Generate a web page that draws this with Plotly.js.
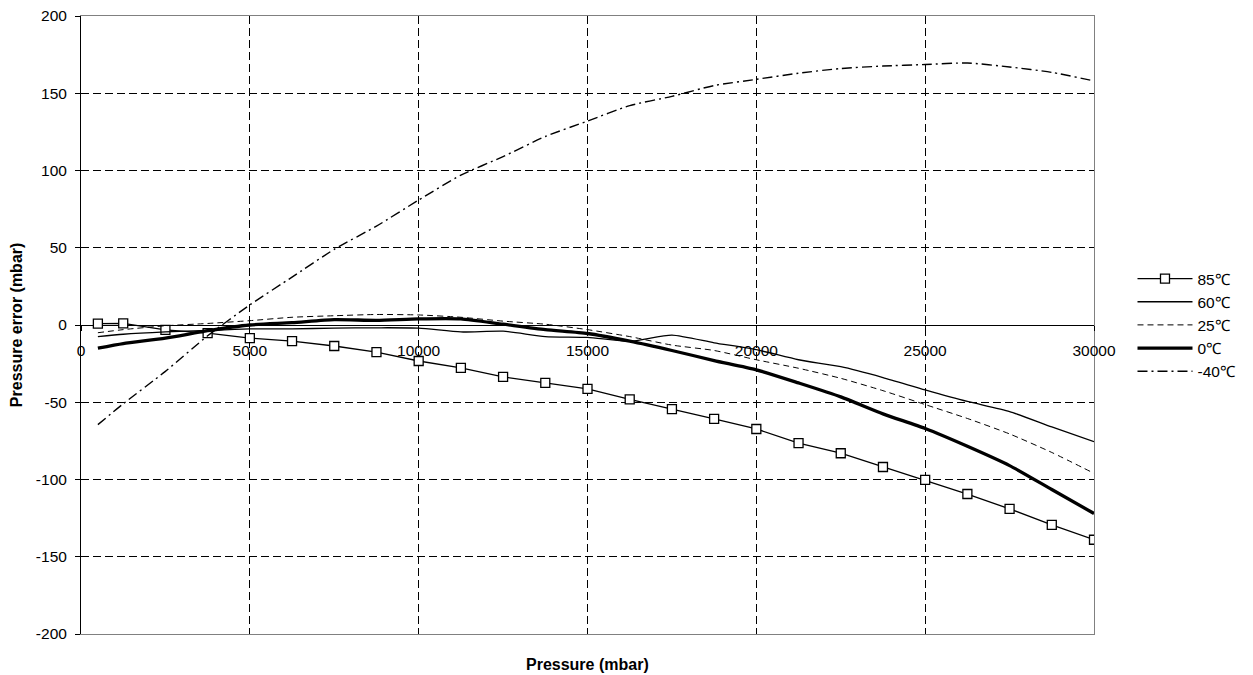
<!DOCTYPE html>
<html>
<head>
<meta charset="utf-8">
<script src="https://cdn.plot.ly/plotly-3.0.1.min.js"></script>
<style>html,body{margin:0;padding:0;background:#fff;}#chart{width:1253px;height:675px;}</style>
</head>
<body>
<div id="chart"></div>
<script>
var pressure = [500, 1250, 2500, 3750, 5000, 6250, 7500, 8750, 10000, 11250, 12500, 13750, 15000, 16250, 17500, 18750, 20000, 21250, 22500, 23750, 25000, 26250, 27500, 28750, 30000];
var err85 = [0.9, 1.1, -3.2, -5.2, -8.5, -10.5, -13.6, -17.5, -23.3, -27.8, -33.6, -37.5, -41.4, -48.2, -54.4, -60.8, -67.3, -76.4, -83, -91.9, -100.3, -109.4, -119, -129.4, -139];
var err60 = [-7.5, -6, -4.5, -3.5, -2.5, -2.5, -2, -1.8, -2, -4.5, -4, -7.5, -8, -10.5, -6.5, -11.5, -16, -22.5, -27, -34, -42, -49.5, -56, -66, -75.5];
var err25 = [-5, -3, -0.5, 1, 2.8, 5, 6, 6.8, 6.5, 5, 2.5, 0.5, -3, -7.5, -13, -16.5, -22.5, -28, -34.5, -42.5, -51.5, -60.5, -70.5, -82.5, -96];
var err0 = [-15, -12, -8.5, -3.7, 0, 1.5, 3.5, 3, 4, 4, 0.5, -3, -5.5, -10.5, -16.5, -23, -29, -37.5, -46.5, -57.5, -67, -78.5, -91, -106.5, -122];
var errM40 = [-64.5, -51, -30, -7, 13, 31, 49, 64, 80.9, 97, 109, 122, 132, 142, 148, 155, 159, 163, 166, 167.6, 168.6, 169.6, 167, 163.5, 158];
var seriesNames = ['85\u2103', '60\u2103', '25\u2103', '0\u2103', '-40\u2103'];
var xTicks = [0, 5000, 10000, 15000, 20000, 25000, 30000];
var xTickText = ['0', '5000', '10000', '15000', '20000', '25000', '30000'];
var yTicks = [-200, -150, -100, -50, 0, 50, 100, 150, 200];
var yTickText = ['-200', '-150', '-100', '-50', '0', '50', '100', '150', '200'];

var FONT = 'Liberation Sans, Arial, Helvetica, sans-serif';
var traces = [
  {x: pressure, y: err85, name: seriesNames[0], mode: 'lines+markers',
   line: {color: '#000', width: 1.3},
   marker: {symbol: 'square', size: 9, color: '#fff', line: {color: '#000', width: 1.3}}},
  {x: pressure, y: err60, name: seriesNames[1], mode: 'lines',
   line: {color: '#000', width: 1.3, shape: 'spline', smoothing: 0.6}},
  {x: pressure, y: err25, name: seriesNames[2], mode: 'lines',
   line: {color: '#000', width: 1, dash: '6px,4px', shape: 'spline', smoothing: 0.6}},
  {x: pressure, y: err0, name: seriesNames[3], mode: 'lines',
   line: {color: '#000', width: 3.3, shape: 'spline', smoothing: 0.6}},
  {x: pressure, y: errM40, name: seriesNames[4], mode: 'lines',
   line: {color: '#000', width: 1.4, dash: '10px,4px,2px,4px', shape: 'spline', smoothing: 0.6}}
];

var layout = {
  width: 1253, height: 675,
  margin: {l: 81, r: 159, t: 16, b: 41, pad: 0},
  paper_bgcolor: '#fff', plot_bgcolor: '#fff',
  font: {family: FONT, size: 15.5, color: '#000'},
  showlegend: true,
  xaxis: {range: [0, 30000], tickvals: xTicks, showgrid: true, gridcolor: '#000', gridwidth: 1, griddash: '8px,4px',
          showline: true, linecolor: '#808080', linewidth: 1, mirror: true, showticklabels: false, ticks: '', zeroline: false, fixedrange: true},
  yaxis: {range: [-200, 200], tickvals: yTicks, showgrid: true, gridcolor: '#000', gridwidth: 1, griddash: '8px,4px',
          showline: true, linecolor: '#808080', linewidth: 1, mirror: true, showticklabels: false, ticks: '',
          zeroline: true, zerolinecolor: '#000', zerolinewidth: 1, fixedrange: true},
  xaxis2: {overlaying: 'x', anchor: 'free', position: 0.5, range: [0, 30000], tickvals: xTicks, ticktext: xTickText,
           showgrid: false, showline: false, zeroline: false, ticks: 'outside', ticklen: 5, tickcolor: '#000',
           ticklabelstandoff: 6, tickfont: {family: FONT, size: 15.5, color: '#000'}, fixedrange: true},
  yaxis2: {overlaying: 'y', side: 'left', anchor: 'x', range: [-200, 200], tickvals: yTicks, ticktext: yTickText,
           showgrid: false, zeroline: false, showline: true, linecolor: '#000', linewidth: 1,
           ticks: 'outside', ticklen: 5, tickcolor: '#000', ticklabelstandoff: 5,
           tickfont: {family: FONT, size: 15.5, color: '#000'}, fixedrange: true},
  legend: {x: 1.038, xanchor: 'left', y: 0.5, yanchor: 'middle', bgcolor: 'rgba(0,0,0,0)',
           font: {family: FONT, size: 15.5, color: '#000'}, itemwidth: 55, tracegroupgap: 0},
  annotations: [
    {text: 'Pressure (mbar)', xref: 'paper', yref: 'paper', x: 0.5, y: -0.05, xanchor: 'center', yanchor: 'middle',
     showarrow: false, font: {family: FONT, size: 16, color: '#000', weight: 'bold'}},
    {text: 'Pressure error (mbar)', xref: 'paper', yref: 'paper', x: -0.064, y: 0.5, xanchor: 'center', yanchor: 'middle',
     textangle: -90, showarrow: false, font: {family: FONT, size: 16, color: '#000', weight: 'bold'}}
  ]
};

// invisible helper trace to bind overlay axes
traces.push({x: [0, 30000], y: [0, 0], xaxis: 'x2', yaxis: 'y2', mode: 'lines', line: {width: 0, color: 'rgba(0,0,0,0)'},
             showlegend: false, hoverinfo: 'skip'});

Plotly.newPlot('chart', traces, layout, {staticPlot: true, displayModeBar: false});
</script>
</body>
</html>
